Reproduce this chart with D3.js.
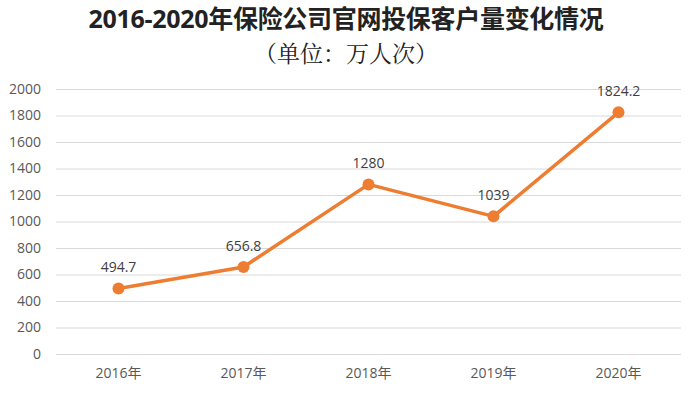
<!DOCTYPE html>
<html>
<head>
<meta charset="utf-8">
<script src="https://cdn.jsdelivr.net/npm/d3@7"></script>
<style>
body { margin: 0; background: #fff; }
text { font-family: "Open Sans", "Noto Sans CJK SC", sans-serif; }
</style>
</head>
<body>
<svg width="693" height="394"></svg>
<script>
// data
var years = ['2016年', '2017年', '2018年', '2019年', '2020年']
var values = [494.7, 656.8, 1280, 1039, 1824.2]
var valueLabels = ['494.7', '656.8', '1280', '1039', '1824.2']
var yTicks = [0, 200, 400, 600, 800, 1000, 1200, 1400, 1600, 1800, 2000]

var svg = d3.select('svg')
var margin = {left: 56, right: 12, top: 89, bottom: 40}
var W = 693, H = 394

var x = d3.scaleBand().domain(years).range([margin.left, W - margin.right])
var y = d3.scaleLinear().domain([0, 2000]).range([354, 89])

// title
svg.append('text')
    .attr('x', 346).attr('y', 28)
    .attr('text-anchor', 'middle')
    .style('font-size', '25px').style('font-weight', 'bold')
    .style('fill', '#222')
    .style('letter-spacing', '-0.3px')
    .text('2016-2020年保险公司官网投保客户量变化情况')
svg.append('text')
    .attr('x', 346).attr('y', 62)
    .attr('text-anchor', 'middle')
    .style('font-size', '23px')
    .style('font-family', '"Noto Serif CJK SC", "Noto Sans CJK SC", serif')
    .style('fill', '#222')
    .text('（单位：万人次）')

// gridlines
svg.append('g').selectAll('line')
    .data(yTicks)
    .join('line')
    .attr('x1', margin.left).attr('x2', W - margin.right)
    .attr('y1', function(d) { return y(d) + 0.5 })
    .attr('y2', function(d) { return y(d) + 0.5 })
    .attr('stroke', '#d9d9d9')
    .attr('stroke-width', 1)

// y axis labels
var yAxis = d3.axisLeft(y).tickValues(yTicks).tickSize(0).tickPadding(0).tickFormat(d3.format('d'))
var yg = svg.append('g').attr('transform', 'translate(41,0)').call(yAxis)
yg.select('.domain').remove()
yg.selectAll('text').style('font-size', '14px').style('fill', '#595959')
    .style('font-family', '"Open Sans", sans-serif')

// x axis labels
var xAxis = d3.axisBottom(x).tickSize(0).tickPadding(0)
var xg = svg.append('g').attr('transform', 'translate(0,368)').call(xAxis)
xg.select('.domain').remove()
xg.selectAll('text').style('font-size', '14px').style('fill', '#595959')

var cx = function(d, i) { return x(years[i]) + x.bandwidth() / 2 }

// line
var lineFunc = d3.line()
    .x(function(d, i) { return cx(d, i) })
    .y(function(d) { return y(d) })
svg.append('path')
    .attr('d', lineFunc(values))
    .attr('fill', 'none')
    .attr('stroke', '#ED7D31')
    .attr('stroke-width', 3.5)
    .attr('stroke-linejoin', 'round')

svg.append('g').selectAll('circle')
    .data(values)
    .join('circle')
    .attr('cx', cx)
    .attr('cy', function(d) { return y(d) })
    .attr('r', 6)
    .attr('fill', '#ED7D31')

// value labels
svg.append('g').selectAll('text')
    .data(values)
    .join('text')
    .attr('x', cx)
    .attr('y', function(d) { return y(d) - 16 })
    .attr('text-anchor', 'middle')
    .style('font-size', '14px')
    .style('fill', '#404040')
    .text(function(d, i) { return valueLabels[i] })
</script>
</body>
</html>
